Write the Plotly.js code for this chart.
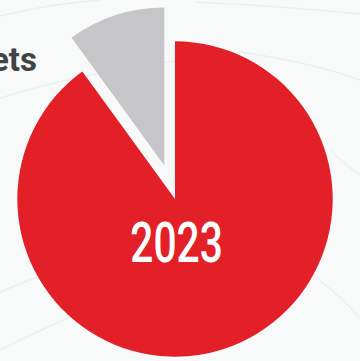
<!DOCTYPE html>
<html>
<head>
<meta charset="utf-8">
<script src="https://cdn.plot.ly/plotly-3.0.1.min.js"></script>
<style>html,body{margin:0;padding:0;background:#f8f9f9;}#chart{width:360px;height:361px;}</style>
</head>
<body>
<div id="chart"></div>
<script>
// Data
var categories = ["2023 share", "Other"];
var shares = [90, 10];
var sliceColors = ["#e31f28", "#c6c6c8"];
var centerLabel = "2023";
var sideLabel = "ets";

var transparent = "rgba(0,0,0,0)";

// main (red) slice trace
var mainTrace = {
  type: "pie",
  labels: categories,
  values: shares,
  sort: false,
  direction: "clockwise",
  rotation: 0,
  textinfo: "none",
  hoverinfo: "label+percent",
  marker: {colors: [sliceColors[0], transparent], line: {width: 0}},
  domain: {x: [0.0481, 0.9242], y: [0.0119, 0.8856]},
  showlegend: false
};
// pulled-out (gray) slice trace
var pulledTrace = {
  type: "pie",
  labels: categories,
  values: shares,
  sort: false,
  direction: "clockwise",
  rotation: 0,
  textinfo: "none",
  hoverinfo: "label+percent",
  marker: {colors: [transparent, sliceColors[1]], line: {width: 0}},
  domain: {x: [0.0175, 0.8953], y: [0.1040, 0.9794]},
  showlegend: false
};

var bgLines = [
  "M0,16 Q50,4 100,0",
  "M0,98 Q90,70 200,58",
  "M195,2 Q280,6 360,14",
  "M240,52 Q310,62 360,80",
  "M0,292 Q40,275 80,262",
  "M0,350 Q60,320 110,300",
  "M300,265 Q335,290 360,318",
  "M330,150 Q345,165 360,175"
];
function pxToPaper(p){
  return p.replace(/(-?\d+\.?\d*),(-?\d+\.?\d*)/g, function(m, x, y){
    return (parseFloat(x)/360).toFixed(4) + "," + (1 - parseFloat(y)/361).toFixed(4);
  });
}
var shapes = bgLines.map(function(p){
  return {type: "path", xref: "paper", yref: "paper", path: pxToPaper(p), layer: "below",
          line: {color: "#eceef0", width: 1.5}};
});

var layout = {
  width: 360,
  height: 361,
  margin: {l: 0, r: 0, t: 0, b: 0},
  paper_bgcolor: "#f8f9f9",
  plot_bgcolor: "#f8f9f9",
  showlegend: false,
  shapes: shapes,
  annotations: [
    {text: centerLabel, xref: "paper", yref: "paper", x: 176/360, y: 1 - 243/361,
     xanchor: "center", yanchor: "middle", showarrow: false,
     font: {family: "Roboto, 'Liberation Sans', sans-serif", size: 55, color: "#ffffff", weight: 500}},
    {text: sideLabel, xref: "paper", yref: "paper", x: 39/360, y: 1 - 60/361,
     xanchor: "right", yanchor: "middle", showarrow: false,
     font: {family: "Roboto, 'Liberation Sans', sans-serif", size: 33, color: "#434343", weight: "bold"}}
  ]
};

Plotly.newPlot("chart", [mainTrace, pulledTrace], layout, {displayModeBar: false, staticPlot: true}).then(function(){
  // condense the centre label horizontally (the reference uses a condensed face)
  var t = document.querySelector('.annotation[data-index="0"] text.annotation-text');
  if (t) {
    var b = t.getBBox();
    var cx = b.x + b.width / 2;
    var s = 0.74;
    t.setAttribute("transform", "translate(" + cx + ",0) scale(" + s + ",1) translate(" + (-cx) + ",0)");
  }
});
</script>
</body>
</html>
